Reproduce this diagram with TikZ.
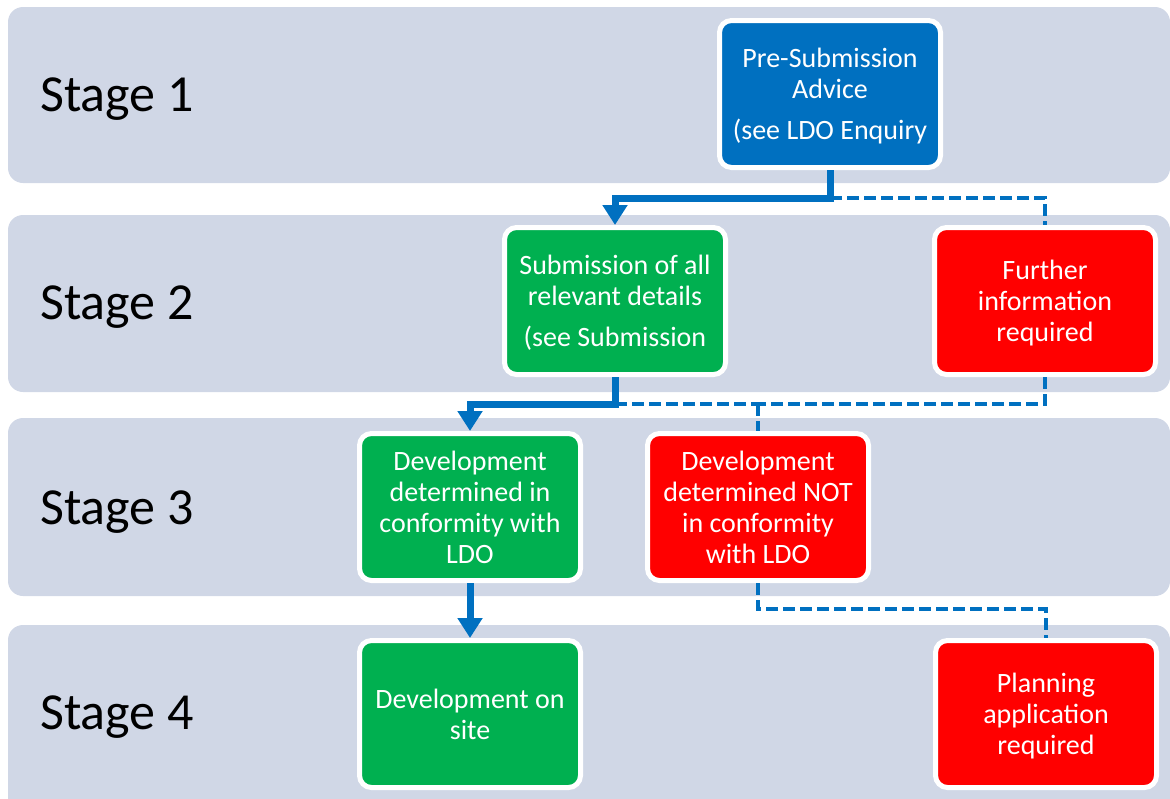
\documentclass[tikz,border=0pt]{standalone}
\usepackage{fontspec}
\setmainfont{Carlito}
\usetikzlibrary{arrows.meta}
\definecolor{bandgrey}{RGB}{208,215,230}
\definecolor{ldoblue}{RGB}{0,112,192}
\definecolor{ldogreen}{RGB}{0,176,80}
\definecolor{ldored}{RGB}{255,0,0}
\tikzset{
  band/.style={fill=bandgrey, rounded corners=15pt},
  stage/.style={inner sep=0pt, anchor=base west, font=\fontsize{52}{60}\selectfont},
  box/.style={draw=white, line width=5pt, rounded corners=12pt, minimum width=221pt,
    minimum height=147pt, inner sep=2pt, align=center, text=white, text depth=0pt,
    font=\fontsize{28}{31}\selectfont},
  flow/.style={ldoblue, line width=7pt, -{Triangle[width=24pt,length=20pt]}},
  maybe/.style={ldoblue, line width=3.5pt, dash pattern=on 12pt off 5pt},
}
\begin{document}
\begin{tikzpicture}[x=1pt, y=-1pt]
    \useasboundingbox (0,0) rectangle (1170,798);
    % Stage bands
    \foreach \n/\top/\bot/\base in {1/7/183/111, 2/215/392/319, 3/418/596/524, 4/625/830/729} {
        \fill[band] (8,\top) rectangle (1170,\bot);
        \node[stage] (stage\n) at (40,\base) {Stage \n};
    }

    % Boxes
    \node[box, fill=ldoblue] (pre) at (830,94) {Pre-Submission\\Advice\\[10pt](see LDO Enquiry};
    \node[box, fill=ldogreen] (sub) at (615,301) {Submission of all\\relevant details\\[10pt](see Submission};
    \node[box, fill=ldored] (fur) at (1045,301) {Further\\information\\required};
    \node[box, fill=ldogreen] (conf) at (470,507) {Development\\determined in\\conformity with\\LDO};
    \node[box, fill=ldored] (not) at (758,507) {Development\\determined NOT\\in conformity\\with LDO};
    \node[box, fill=ldogreen] (site) at (470,714) {Development on\\site};
    \node[box, fill=ldored] (plan) at (1046,714) {Planning\\application\\required};

    % Connectors
    \coordinate (j1) at (830,198); \coordinate (j2) at (615,404);
    \coordinate (j3) at (1045,404); \coordinate (j4) at (758,609);
    \coordinate (jn) at (758,404);
    \draw[maybe] (j1) -| (fur.north);
    \draw[flow] (pre.south) -- (j1) -| (sub.north);
    \draw[maybe] (j2) -- (jn);
    \draw[maybe] (fur.south) -- (j3) -- (jn);
    \draw[maybe] (jn) -- (not.north);
    \draw[flow] (sub.south) -- (j2) -| (conf.north);
    \draw[flow] (conf.south) -- (site.north);
    \draw[maybe] (not.south) -- (j4) -| (plan.north);
\end{tikzpicture}
\end{document}
